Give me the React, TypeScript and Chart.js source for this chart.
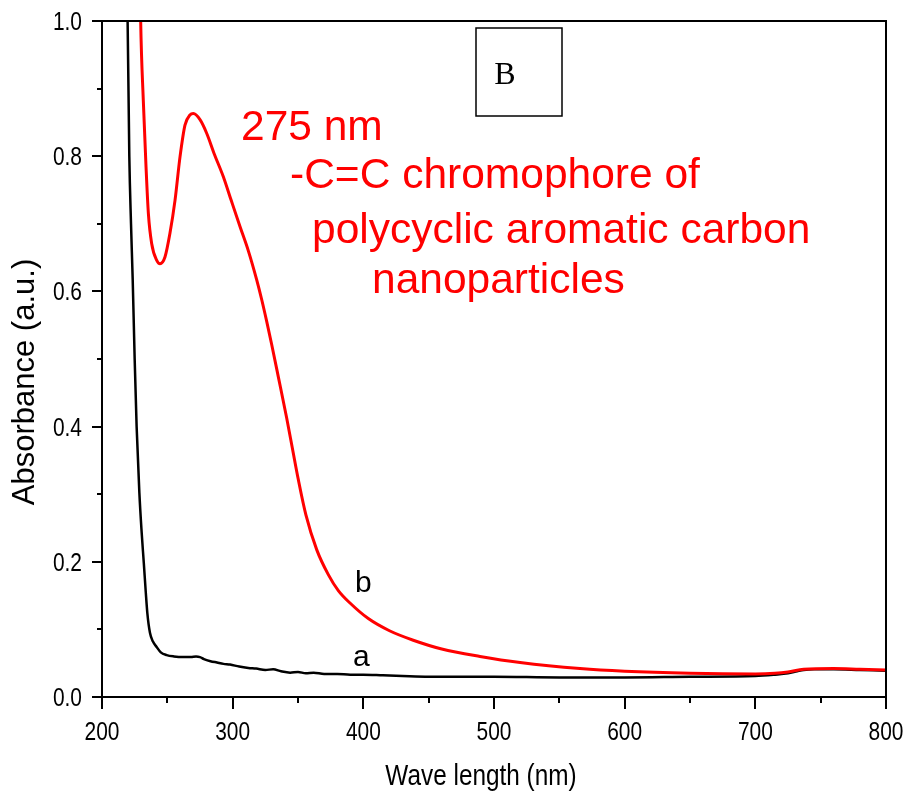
import React, { useEffect, useRef } from "react";
import { Chart, registerables } from "chart.js";

Chart.register(...registerables);

// Sample a: plain spectrum (wavelength in nm, absorbance in a.u.)
const wavelengthA = [
  214, 217, 219.6, 220.9, 222.2, 223.5, 225, 226.5, 228.6, 230.3, 232, 233.5, 234.7, 236.7, 239,
  241.8, 245, 249.5, 255, 262, 268, 272, 275, 278, 283, 288, 293, 298, 305, 312, 318, 325, 331,
  337, 344, 350, 356, 362, 370, 380, 390, 400, 415, 430, 450, 475, 500, 550, 600, 650, 700, 715,
  725, 732, 737, 745, 760, 780, 800,
];
const absorbanceA = [
  1.4, 1.15, 1.0, 0.8, 0.7, 0.617, 0.5, 0.4, 0.302, 0.245, 0.198, 0.155, 0.124, 0.095, 0.082,
  0.074, 0.066, 0.062, 0.06, 0.059, 0.059, 0.06, 0.059, 0.056, 0.053, 0.051, 0.049, 0.048, 0.045,
  0.043, 0.042, 0.04, 0.041, 0.038, 0.036, 0.037, 0.035, 0.036, 0.034, 0.034, 0.033, 0.033, 0.032,
  0.031, 0.03, 0.03, 0.03, 0.029, 0.029, 0.03, 0.031, 0.033, 0.035, 0.038, 0.04, 0.041, 0.041,
  0.04, 0.039,
];

// Sample b: carbon nanoparticle spectrum
const wavelengthB = [
  227.5, 229.6, 231.6, 233.7, 235.5, 238, 241.9, 244.4, 248.2, 252, 255.9, 259.7, 263.5, 267.3,
  269.9, 275, 280.1, 286, 292.8, 299, 305.6, 312, 318.4, 322.2, 326, 329.9, 334.9, 341.3, 345.7,
  350.2, 356.1, 364.3, 373.2, 381, 389.8, 403.8, 420, 438.2, 460, 489.3, 520, 565.8, 600, 650, 700,
  715, 725, 737, 760, 780, 800,
];
const absorbanceB = [
  1.3, 1.0, 0.883, 0.784, 0.715, 0.671, 0.646, 0.641, 0.651, 0.686, 0.735, 0.799, 0.846, 0.861,
  0.863, 0.854, 0.834, 0.803, 0.77, 0.734, 0.696, 0.66, 0.617, 0.588, 0.556, 0.521, 0.474, 0.413,
  0.368, 0.322, 0.269, 0.218, 0.181, 0.157, 0.139, 0.116, 0.098, 0.084, 0.071, 0.06, 0.051, 0.042,
  0.038, 0.035, 0.034, 0.035, 0.037, 0.041, 0.042, 0.041, 0.04,
];

const xMajorTicks = [200, 300, 400, 500, 600, 700, 800];
const xMinorTicks = [250, 350, 450, 550, 650, 750];
const yMajorTicks = [0, 0.2, 0.4, 0.6, 0.8, 1.0];
const yMinorTicks = [0.1, 0.3, 0.5, 0.7, 0.9];

const xTitle = "Wave length (nm)";
const yTitle = "Absorbance (a.u.)";
const noteLines = ["275 nm", "-C=C chromophore of", "polycyclic aromatic carbon", "nanoparticles"];
const seriesLabels = ["a", "b"];
const panelLetter = "B";

const SANS = "'Liberation Sans', Arial, Helvetica, sans-serif";
const SERIF = "'Liberation Serif', 'Times New Roman', serif";

const toPoints = (xs: number[], ys: number[]) => xs.map((x, i) => ({ x, y: ys[i] }));

// Condensed (narrow) text: regular sans squeezed horizontally
function narrowText(ctx: CanvasRenderingContext2D, text: string, x: number, y: number, align: CanvasTextAlign, squeeze: number) {
  ctx.save();
  ctx.translate(x, y);
  ctx.scale(squeeze, 1);
  ctx.textAlign = align;
  ctx.textBaseline = "alphabetic";
  ctx.fillText(text, 0, 0);
  ctx.restore();
}

const decorations = {
  id: "decorations",
  afterDatasetsDraw(chart: any) {
    const { ctx, chartArea, scales } = chart;
    const { left, right, top, bottom } = chartArea;
    const xs = scales.x;
    const ys = scales.y;
    ctx.save();

    // frame
    ctx.strokeStyle = "#000";
    ctx.lineWidth = 2;
    ctx.strokeRect(left, top, right - left, bottom - top);

    // outward ticks on bottom and left axes
    ctx.beginPath();
    xMajorTicks.forEach((v) => {
      const px = Math.round(xs.getPixelForValue(v));
      ctx.moveTo(px, bottom);
      ctx.lineTo(px, bottom + 12);
    });
    xMinorTicks.forEach((v) => {
      const px = Math.round(xs.getPixelForValue(v));
      ctx.moveTo(px, bottom);
      ctx.lineTo(px, bottom + 6);
    });
    yMajorTicks.forEach((v) => {
      const py = Math.round(ys.getPixelForValue(v));
      ctx.moveTo(left, py);
      ctx.lineTo(left - 10, py);
    });
    yMinorTicks.forEach((v) => {
      const py = Math.round(ys.getPixelForValue(v));
      ctx.moveTo(left, py);
      ctx.lineTo(left - 5, py);
    });
    ctx.stroke();

    // tick labels
    ctx.fillStyle = "#000";
    ctx.font = `25.5px ${SANS}`;
    xMajorTicks.forEach((v) => {
      narrowText(ctx, String(v), xs.getPixelForValue(v), bottom + 43, "center", 0.82);
    });
    yMajorTicks.forEach((v) => {
      narrowText(ctx, v.toFixed(1), left - 20, ys.getPixelForValue(v) + 9, "right", 0.82);
    });

    // axis titles
    ctx.font = `29px ${SANS}`;
    narrowText(ctx, xTitle, 481, 785, "center", 0.84);

    ctx.save();
    ctx.translate(25, 382);
    ctx.rotate(-Math.PI / 2);
    ctx.textAlign = "center";
    ctx.textBaseline = "middle";
    ctx.font = `31px ${SANS}`;
    ctx.fillText(yTitle, 0, 0);
    ctx.restore();

    // red annotation
    ctx.fillStyle = "#ff0000";
    ctx.textAlign = "left";
    ctx.textBaseline = "alphabetic";
    ctx.font = `42.5px ${SANS}`;
    const notePos = [
      [241, 140],
      [290, 188],
      [312, 243],
      [372, 293],
    ];
    noteLines.forEach((t, i) => ctx.fillText(t, notePos[i][0], notePos[i][1]));

    // curve labels
    ctx.fillStyle = "#000";
    ctx.font = `30px ${SANS}`;
    ctx.fillText(seriesLabels[0], 353, 666);
    ctx.fillText(seriesLabels[1], 355, 592);

    // panel letter box
    ctx.lineWidth = 1.5;
    ctx.strokeRect(476, 28, 86, 88);
    ctx.textAlign = "center";
    ctx.font = `32px ${SERIF}`;
    ctx.fillText(panelLetter, 505, 84);

    ctx.restore();
  },
};

export default function App() {
  const canvasRef = useRef<HTMLCanvasElement | null>(null);

  useEffect(() => {
    if (!canvasRef.current) return;
    const chart = new Chart(canvasRef.current, {
      type: "line",
      data: {
        datasets: [
          {
            label: "b",
            data: toPoints(wavelengthB, absorbanceB),
            borderColor: "#ff0000",
            borderWidth: 3,
            pointRadius: 0,
            cubicInterpolationMode: "monotone",
            fill: false,
          },
          {
            label: "a",
            data: toPoints(wavelengthA, absorbanceA),
            borderColor: "#000000",
            borderWidth: 2.5,
            pointRadius: 0,
            cubicInterpolationMode: "monotone",
            fill: false,
          },
        ],
      },
      options: {
        animation: false,
        responsive: true,
        maintainAspectRatio: false,
        parsing: false,
        layout: { padding: { top: 21, right: 23, left: 0, bottom: 0 } },
        plugins: {
          legend: { display: false },
          tooltip: { enabled: false },
        },
        scales: {
          x: {
            type: "linear",
            min: 200,
            max: 800,
            grid: { display: false },
            border: { display: false },
            ticks: { display: false, stepSize: 100 },
            afterFit: (s: any) => {
              s.height = 96;
              s.paddingLeft = 0;
              s.paddingRight = 0;
            },
          },
          y: {
            type: "linear",
            min: 0,
            max: 1,
            grid: { display: false },
            border: { display: false },
            ticks: { display: false, stepSize: 0.2 },
            afterFit: (s: any) => {
              s.width = 102;
              s.paddingTop = 0;
              s.paddingBottom = 0;
            },
          },
        },
      },
      plugins: [decorations],
    });
    return () => chart.destroy();
  }, []);

  return (
    <div style={{ position: "fixed", left: 0, top: 0, width: 909, height: 793, background: "#fff" }}>
      <canvas ref={canvasRef} />
    </div>
  );
}
